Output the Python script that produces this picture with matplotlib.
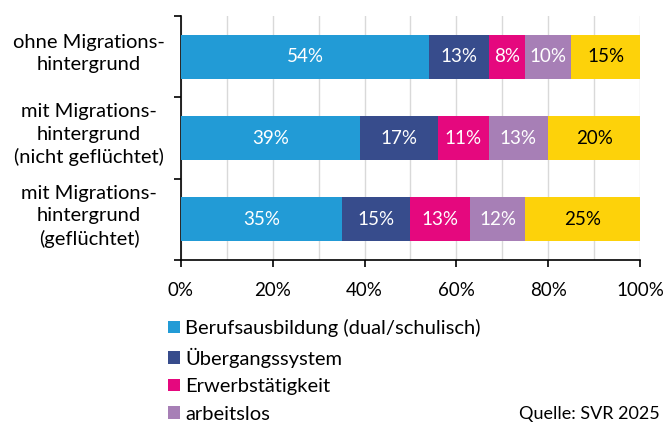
import matplotlib
matplotlib.use("Agg")
import matplotlib.pyplot as plt
from matplotlib.patches import Patch
import numpy as np

plt.rcParams['font.family'] = ['Lato', 'DejaVu Sans']

categories = ["ohne Migrations-\nhintergrund",
              "mit Migrations-\nhintergrund\n(nicht geflüchtet)",
              "mit Migrations-\nhintergrund\n(geflüchtet)"]
series_names = ["Berufsausbildung (dual/schulisch)", "Übergangssystem",
                "Erwerbstätigkeit", "arbeitslos", "Sonstiges"]
values = {
    "Berufsausbildung (dual/schulisch)": [54, 39, 35],
    "Übergangssystem": [13, 17, 15],
    "Erwerbstätigkeit": [8, 11, 13],
    "arbeitslos": [10, 13, 12],
    "Sonstiges": [15, 20, 25],
}
colors = ["#229BD6", "#374C8C", "#E5087E", "#A77FB6", "#FDD20A"]
text_colors = ["white", "white", "white", "white", "black"]
xticks = [0, 20, 40, 60, 80, 100]
xticklabels = ["0%", "20%", "40%", "60%", "80%", "100%"]

fig = plt.figure(figsize=(6.63, 4.25), dpi=100)
ax = fig.add_axes([181/663, 1-260/425, (640-181)/663, (260-16)/425])

y = np.arange(len(categories))
left = np.zeros(len(categories))
for name, c, tc in zip(series_names, colors, text_colors):
    v = np.array(values[name], dtype=float)
    ax.barh(y, v, left=left, height=0.54, color=c, zorder=3)
    for yi, (l, vi) in enumerate(zip(left, v)):
        ax.text(l + vi/2, yi, f"{int(vi)}%", ha="center", va="center",
                color=tc, fontsize=13.5, zorder=4)
    left += v

ax.set_xlim(0, 100)
ax.set_ylim(2.5, -0.5)
ax.set_xticks(xticks)
ax.set_xticklabels(xticklabels, fontsize=13.5)
ax.set_xticks(np.arange(0, 101, 10), minor=True)
ax.grid(axis="x", which="both", color="#d9d9d9", linewidth=1, zorder=0)
ax.tick_params(axis="x", which="minor", length=0)
ax.tick_params(axis="x", which="major", length=5, width=1.2, pad=11, color="black")
ax.set_yticks([-0.5, 0.5, 1.5, 2.5])
ax.set_yticklabels([])
ax.tick_params(axis="y", length=5, width=1.2, color="black")
for yi, lab in enumerate(categories):
    ax.text((89-181)/459, yi - 0.04, lab, transform=ax.get_yaxis_transform(),
            ha="center", va="center", fontsize=14.5, linespacing=1.38)
for s in ["top", "right"]:
    ax.spines[s].set_visible(False)
ax.spines["left"].set_linewidth(1.2)
ax.spines["bottom"].set_linewidth(1.2)

handles = [Patch(facecolor=c, edgecolor="none") for c in colors[:4]]
fig.legend(handles, series_names[:4], loc="upper left",
           bbox_to_anchor=(168/663, 1-319/425), frameon=False, fontsize=14.5,
           handlelength=0.6, handleheight=0.6, handletextpad=0.25,
           labelspacing=0.52, borderaxespad=0, borderpad=0)
fig.text(660/663, 1-414/425, "Quelle: SVR 2025", ha="right", va="center", fontsize=13)

fig.savefig("out.png", dpi=100)
